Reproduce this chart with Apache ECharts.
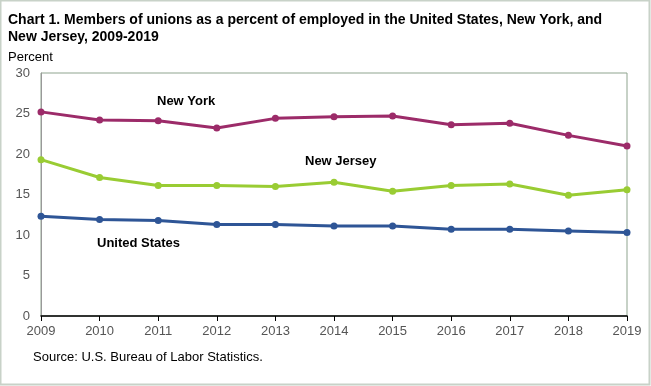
<!DOCTYPE html>
<html><head><meta charset="utf-8">
<script src="https://cdn.jsdelivr.net/npm/echarts@6/dist/echarts.min.js"></script>
<style>html,body{margin:0;padding:0;background:#fff}#c{width:651px;height:386px}</style>
</head><body><div id="c"></div>
<script>
const years = ['2009','2010','2011','2012','2013','2014','2015','2016','2017','2018','2019'];
const newYork = [25.2, 24.2, 24.1, 23.2, 24.4, 24.6, 24.7, 23.6, 23.8, 22.3, 21.0];
const newJersey = [19.3, 17.1, 16.1, 16.1, 16.0, 16.5, 15.4, 16.1, 16.3, 14.9, 15.6];
const unitedStates = [12.3, 11.9, 11.8, 11.3, 11.3, 11.1, 11.1, 10.7, 10.7, 10.5, 10.3];
const yTicks = [0, 5, 10, 15, 20, 25, 30];

const chart = echarts.init(document.getElementById('c'));
const F = 'Arial, "Liberation Sans", sans-serif';
function line(name, data, color) {
  return {
    name, type: 'line', data, symbol: 'circle', symbolSize: 7,
    lineStyle: { color, width: 3 }, itemStyle: { color },
    animation: false
  };
}
chart.setOption({
  animation: false,
  grid: { left: 41, right: 24, top: 73, bottom: 70, show: true, borderColor: '#8fa48f', borderWidth: 1 },
  xAxis: {
    type: 'category', data: years, boundaryGap: false,
    axisLine: { lineStyle: { color: '#000', width: 1.5 } },
    axisTick: { show: true, length: 5, lineStyle: { color: '#000' }, alignWithLabel: true },
    axisLabel: { color: '#555', fontFamily: F, fontSize: 13, margin: 9 },
    splitLine: { show: false }
  },
  yAxis: {
    type: 'value', min: yTicks[0], max: yTicks[yTicks.length - 1], interval: 5,
    axisLine: { show: true, lineStyle: { color: '#999' } },
    axisTick: { show: false },
    axisLabel: { color: '#555', fontFamily: F, fontSize: 13, margin: 11 },
    splitLine: { show: false }
  },
  series: [
    line('New York', newYork, '#9c2b69'),
    line('New Jersey', newJersey, '#99cc33'),
    line('United States', unitedStates, '#2e5596')
  ],
  graphic: [
    { type: 'rect', shape: { x: 0.5, y: 0.5, width: 649, height: 384 }, style: { fill: 'none', stroke: '#c8d2c8', lineWidth: 2 }, silent: true },
    { type: 'text', left: 8, top: 12, style: { text: 'Chart 1. Members of unions as a percent of employed in the United States, New York, and\nNew Jersey, 2009-2019', font: 'bold 14px ' + F, fill: '#000', lineHeight: 17 } },
    { type: 'text', left: 8, top: 51, style: { text: 'Percent', font: '13px ' + F, fill: '#000' } },
    { type: 'text', left: 157, top: 95, style: { text: 'New York', font: 'bold 13px ' + F, fill: '#000' } },
    { type: 'text', left: 305, top: 155, style: { text: 'New Jersey', font: 'bold 13px ' + F, fill: '#000' } },
    { type: 'text', left: 97, top: 237, style: { text: 'United States', font: 'bold 13px ' + F, fill: '#000' } },
    { type: 'text', left: 33, top: 351, style: { text: 'Source: U.S. Bureau of Labor Statistics.', font: '13px ' + F, fill: '#000' } }
  ]
});
</script></body></html>
